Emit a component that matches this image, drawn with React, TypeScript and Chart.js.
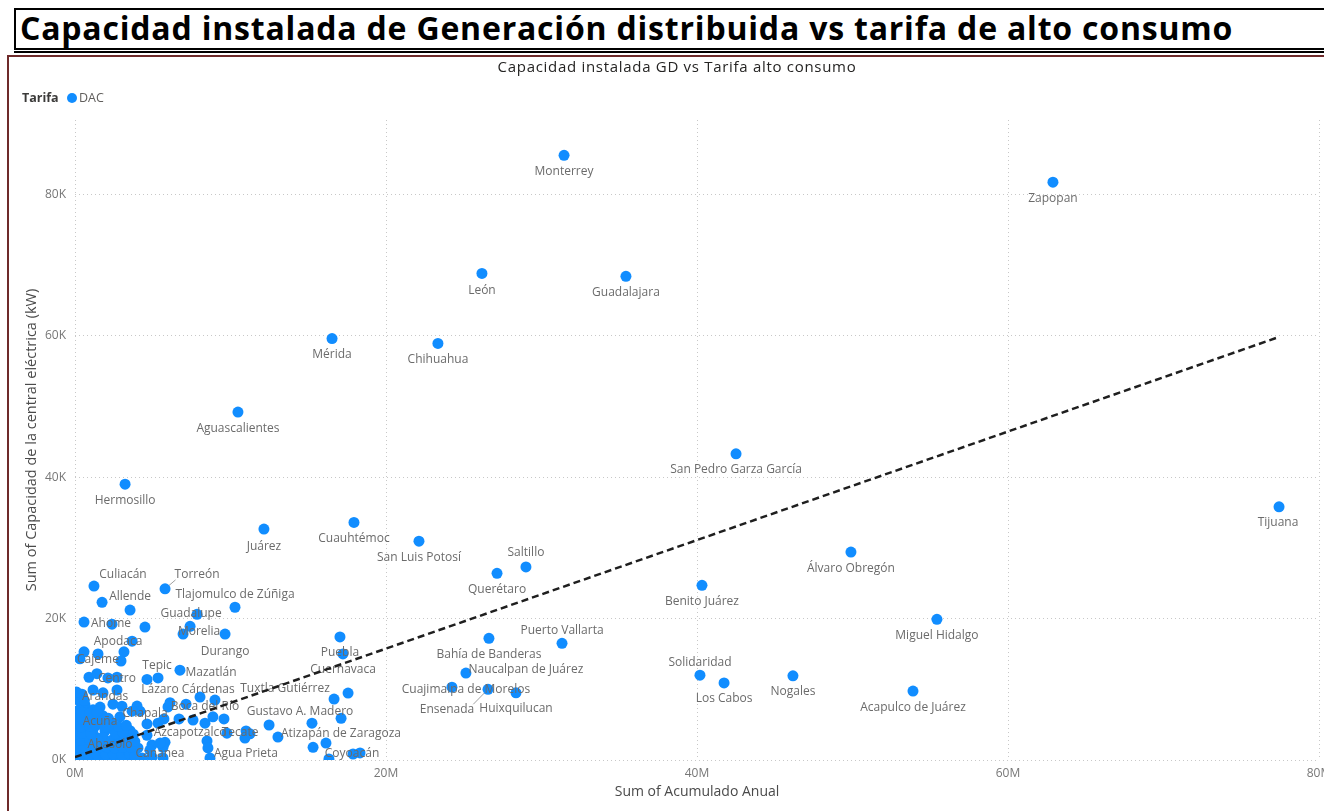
import React, { useEffect, useRef } from 'react';
import { Chart, registerables } from 'chart.js';

Chart.register(...registerables);

const FONT = '"Open Sans", "Noto Sans", sans-serif';

// ---------- DATA ----------
const cityNames: string[] = [
  'Monterrey', 'Zapopan', 'León', 'Guadalajara', 'Mérida', 'Chihuahua', 'Aguascalientes',
  'San Pedro Garza García', 'Hermosillo', 'Tijuana', 'Juárez', 'Cuauhtémoc', 'San Luis Potosí',
  'Álvaro Obregón', 'Saltillo', 'Querétaro', 'Benito Juárez', 'Culiacán', 'Torreón', 'Allende',
  'Tlajomulco de Zúñiga', 'Guadalupe', 'Ahome', 'Morelia', 'Durango', 'Apodaca', 'Puebla',
  'Cajeme', 'Tepic', 'Mazatlán', 'Cuernavaca', 'Centro', 'Lázaro Cárdenas', 'Tuxtla Gutiérrez',
  'Arandas', 'Boca del Río', 'Gustavo A. Madero', 'Chapala', 'Acuña', 'Azcapotzalco', 'Tecate',
  'Atizapán de Zaragoza', 'Abasolo', 'Agua Prieta', 'Cananea', 'Coyoacán', 'Puerto Vallarta',
  'Bahía de Banderas', 'Naucalpan de Juárez', 'Cuajimalpa de Morelos', 'Ensenada', 'Huixquilucan',
  'Solidaridad', 'Los Cabos', 'Nogales', 'Acapulco de Juárez', 'Miguel Hidalgo',
];
// Sum of Acumulado Anual (millions)
const cityAcumulado: number[] = [
  31.45, 62.89, 26.17, 35.43, 16.53, 23.34, 10.48,
  42.51, 3.22, 77.43, 12.15, 17.94, 22.12,
  49.9, 29.0, 27.14, 40.32, 1.22, 5.79, 1.74,
  10.29, 7.85, 0.58, 7.4, 9.65, 3.67, 17.23,
  0.32, 5.34, 6.75, 17.56, 2.12, 8.04, 16.66,
  1.16, 9.0, 15.24, 3.99, 1.61, 6.69, 11.0,
  16.14, 1.93, 8.68, 4.95, 17.88, 31.32,
  26.62, 25.14, 24.24, 26.56, 28.36,
  40.19, 41.74, 46.17, 53.89, 55.43,
];
// Sum of Capacidad de la central eléctrica (thousands of kW)
const cityCapacidad: number[] = [
  85.5, 81.7, 68.8, 68.4, 59.6, 58.9, 49.2,
  43.3, 39.0, 35.8, 32.65, 33.6, 30.95,
  29.4, 27.3, 26.4, 24.7, 24.6, 24.2, 22.3,
  21.6, 20.6, 19.5, 18.9, 17.8, 16.8, 15.0,
  14.3, 11.6, 12.7, 9.47, 11.6, 8.9, 8.62,
  9.9, 8.48, 5.2, 7.63, 7.49, 5.8, 4.1,
  2.4, 4.1, 0.28, 2.12, 0.85, 16.5,
  17.2, 12.3, 10.3, 10.0, 9.5,
  12.0, 10.9, 11.9, 9.75, 19.9,
];
// Other municipalities (no data label shown)
const otherAcumulado: number[] = [
  3.54, 2.38, 4.5, 6.95, 17.04, 0.58, 1.48, 3.15, 2.96, 0.9, 1.41, 2.7, 4.63, 0.45, 1.8, 2.7,
  7.14, 5.98, 6.11, 5.72, 7.59, 8.36, 8.87, 9.58, 12.48, 17.11, 9.77, 11.25, 10.93, 13.05,
  8.49, 8.55, 5.79, 5.66, 15.31, 16.33, 18.33, 5.66, 4.95, 4.63, 4.63, 5.34, 5.47, 4.05,
  4.31, 3.54, 4.18, 3.67, 3.02, 2.44, 0.64, 1.16, 2.89, 4.82,
  0.13, 0.64, 1.16, 1.67, 2.19, 2.7, 3.22,
  0.32, 0.84, 1.35, 1.86, 2.38, 2.89, 3.41,
  0.13, 0.58, 1.09, 1.61, 2.12, 2.64, 3.15, 3.6,
  0.26, 0.77, 1.29, 1.8, 2.89, 3.34,
  0.13, 0.64, 1.16, 2.51, 3.02, 3.54,
  0.32, 0.84, 1.35, 1.86, 2.38,
  0.13, 0.64, 1.22, 1.8,
  0.26, 0.19,
  0.38, 0.9, 1.42, 1.95, 2.47, 3.0, 3.5, 3.85,
  0.05, 0.55, 1.05, 1.55, 2.05, 2.55, 3.05, 3.6,
  0.4, 0.95, 1.5, 2.35, 2.85, 3.4, 3.85,
  0.05, 0.5, 1.0, 2.6, 3.1, 3.75,
  0.4, 0.95, 1.35, 1.95, 2.8, 3.3,
  0.05, 0.5, 1.05, 1.6, 2.15,
  0.45, 0.95, 1.4,
  0.6, 0.1,
];
const otherCapacidad: number[] = [
  21.2, 19.2, 18.8, 17.8, 17.4, 15.3, 15.0, 15.3, 14.0, 11.7, 12.2, 11.7, 11.4, 9.3, 9.5, 9.9,
  7.9, 7.5, 8.1, 5.8, 5.65, 5.2, 6.1, 5.8, 4.95, 5.9, 3.8, 3.7, 3.1, 3.25,
  2.7, 1.7, 2.5, 1.8, 1.8, 0.14, 1.0, 0.3, 0.4, 5.1, 3.5, 5.2, 2.4, 1.7,
  0.3, 0.4, 6.9, 6.9, 7.6, 7.9, 7.8, 7.1, 6.1, 1.4,
  0.28, 0.3, 0.25, 0.31, 0.27, 0.33, 0.26,
  1.27, 1.3, 1.22, 1.29, 1.25, 1.31, 1.2,
  2.26, 2.3, 2.2, 2.28, 2.24, 2.31, 2.22, 2.35,
  3.25, 3.2, 3.3, 3.22, 3.27, 3.18,
  4.24, 4.2, 4.3, 4.22, 4.27, 4.15,
  5.23, 5.2, 5.28, 5.19, 5.25,
  6.22, 6.3, 6.18, 6.25,
  7.1, 8.5,
  0.75, 0.8, 0.72, 0.78, 0.82, 0.7, 0.85, 0.5,
  1.75, 1.8, 1.72, 1.78, 1.83, 1.7, 1.76, 1.8,
  2.75, 2.8, 2.7, 2.78, 2.72, 2.85, 2.6,
  3.7, 3.75, 3.68, 3.72, 3.8, 3.65,
  4.7, 4.75, 4.9, 4.65, 4.72, 4.9,
  5.75, 5.7, 5.8, 5.72, 5.9,
  6.75, 6.6, 6.8,
  8.4, 9.6,
];
// Trend line end points
const trendAcumulado: number[] = [0, 77.4];
const trendCapacidad: number[] = [0.4, 59.8];

const xTickLabels: string[] = ['0M', '20M', '40M', '60M', '80M'];
const yTickLabels: string[] = ['0K', '20K', '40K', '60K', '80K'];
const legendTitle = 'Tarifa';
const legendItem = 'DAC';
const chartTitle = 'Capacidad instalada GD vs Tarifa alto consumo';
const pageTitle = 'Capacidad instalada de Generación distribuida vs tarifa de alto consumo';

// ---------- LABEL PLACEMENT (pixel nudges, styling only) ----------
const labelNudge: Record<string, [number, number, boolean?]> = {
  'Saltillo': [0, -14], 'Culiacán': [29, -11], 'Torreón': [32, -14, true], 'Allende': [28, -6],
  'Tlajomulco de Zúñiga': [0, -13], 'Guadalupe': [-6, -1], 'Ahome': [27, 1], 'Morelia': [9, 5],
  'Apodaca': [-14, 0], 'Puebla': [-3, -1], 'Cajeme': [18, 1], 'Tepic': [-1, -12], 'Mazatlán': [31, 2],
  'Cuernavaca': [-5, -23], 'Centro': [9, 1], 'Lázaro Cárdenas': [-12, -7], 'Tuxtla Gutiérrez': [-49, -10],
  'Arandas': [12, 7], 'Boca del Río': [-10, 7], 'Gustavo A. Madero': [-12, -12], 'Chapala': [8, 8],
  'Acuña': [0, 15], 'Azcapotzalco': [11, 14], 'Tecate': [-6, 2], 'Atizapán de Zaragoza': [15, -9],
  'Abasolo': [5, 14], 'Agua Prieta': [36, -4], 'Cananea': [8, 9], 'Coyoacán': [-1, 0],
  'Puerto Vallarta': [0, -13], 'Naucalpan de Juárez': [60, -3], 'Cuajimalpa de Morelos': [14, 2],
  'Ensenada': [-41, 20, true], 'Solidaridad': [0, -13], 'León': [0, 17], 'Aguascalientes': [0, 17],
  'Juárez': [0, 17], 'Durango': [0, 17], 'Acapulco de Juárez': [0, 17], 'Tijuana': [-1, 16],
};

const scatterPoints = [
  ...cityNames.map((_, i) => ({ x: cityAcumulado[i], y: cityCapacidad[i] })),
  ...otherAcumulado.map((x, i) => ({ x, y: otherCapacidad[i] })),
];
const trendPoints = trendAcumulado.map((x, i) => ({ x, y: trendCapacidad[i] }));

const labelPlugin = {
  id: 'cityLabels',
  afterDatasetDraw(chart: any, args: any) {
    if (args.index !== 1) return;
    const meta = args.meta;
    const ctx = chart.ctx as CanvasRenderingContext2D;
    ctx.save();
    ctx.font = `12px ${FONT}`;
    ctx.fillStyle = '#6b6b6b';
    ctx.textAlign = 'center';
    ctx.textBaseline = 'middle';
    cityNames.forEach((name, i) => {
      const el = meta.data[i];
      if (!el) return;
      const [dx, dy, leader] = labelNudge[name] ?? [0, 16];
      const lx = el.x + dx;
      const ly = el.y + dy;
      if (leader) {
        const w = ctx.measureText(name).width;
        const tx = dx > 0 ? lx - w / 2 + 1 : lx + w / 2 - 1;
        const ty = dy < 0 ? ly + 5 : ly - 5;
        const ang = Math.atan2(ty - el.y, tx - el.x);
        ctx.strokeStyle = '#a0a0a0';
        ctx.lineWidth = 1;
        ctx.beginPath();
        ctx.moveTo(el.x + Math.cos(ang) * 5, el.y + Math.sin(ang) * 5);
        ctx.lineTo(tx, ty);
        ctx.stroke();
      }
      ctx.fillText(name, lx, ly);
    });
    ctx.restore();
  },
};

const headerPlugin = {
  id: 'header',
  afterDraw(chart: any) {
    const ctx = chart.ctx as any;
    ctx.save();
    ctx.textBaseline = 'middle';
    ctx.textAlign = 'center';
    ctx.fillStyle = '#252423';
    ctx.font = `15px ${FONT}`;
    ctx.letterSpacing = '0.7px';
    ctx.fillText(chartTitle, 668, 11);
    ctx.letterSpacing = '0px';
    ctx.textAlign = 'left';
    ctx.font = `bold 12.5px ${FONT}`;
    ctx.fillStyle = '#3b3a39';
    ctx.fillText(legendTitle, 13, 41);
    ctx.fillStyle = '#118DFF';
    ctx.beginPath();
    ctx.arc(63, 41, 5, 0, Math.PI * 2);
    ctx.fill();
    ctx.font = `12.5px ${FONT}`;
    ctx.fillStyle = '#605e5c';
    ctx.fillText(legendItem, 70, 41);
    ctx.restore();
  },
};

export default function App() {
  const ref = useRef<HTMLCanvasElement>(null);
  useEffect(() => {
    if (!ref.current) return;
    const chart = new Chart(ref.current, {
      type: 'scatter',
      data: {
        datasets: [
          {
            type: 'line',
            label: 'Tendencia',
            data: trendPoints,
            borderColor: '#1f1f1f',
            borderWidth: 2.5,
            borderDash: [7, 4],
            pointRadius: 0,
            fill: false,
            tension: 0,
            order: 0,
          } as any,
          {
            type: 'scatter',
            label: legendItem,
            data: scatterPoints,
            backgroundColor: '#118DFF',
            borderWidth: 0,
            pointRadius: 5.5,
            pointHoverRadius: 5.5,
            order: 1,
          },
        ],
      },
      options: {
        animation: false,
        responsive: false,
        layout: { padding: { top: 63, right: 26, left: 0, bottom: 0 } },
        plugins: {
          legend: { display: false },
          title: { display: false },
          tooltip: { enabled: false },
        },
        scales: {
          x: {
            type: 'linear',
            position: 'bottom',
            min: 0,
            max: 80,
            afterFit: (s: any) => {
              s.height = 51;
              s.paddingLeft = 0;
              s.paddingRight = 0;
            },
            ticks: {
              stepSize: 20,
              includeBounds: false,
              padding: 6,
              color: '#777777',
              font: { family: FONT, size: 12 },
              callback: (v: any) => xTickLabels[Math.round(Number(v) / 20)] ?? '',
            },
            grid: { color: '#c8c8c8', lineWidth: 1, drawTicks: false },
            border: { display: false, dash: [1, 3] },
            title: {
              display: true,
              text: 'Sum of Acumulado Anual',
              color: '#4a4a4a',
              font: { family: FONT, size: 14 },
              padding: { top: 0, bottom: 11 },
            },
          },
          y: {
            type: 'linear',
            min: 0,
            max: 90.5,
            afterFit: (s: any) => {
              s.width = 66;
              s.paddingTop = 0;
              s.paddingBottom = 0;
            },
            ticks: {
              stepSize: 20,
              includeBounds: false,
              padding: 9,
              color: '#777777',
              font: { family: FONT, size: 12 },
              callback: (v: any) => yTickLabels[Math.round(Number(v) / 20)] ?? '',
            },
            grid: { color: '#c8c8c8', lineWidth: 1, drawTicks: false },
            border: { display: false, dash: [1, 3] },
            title: {
              display: true,
              text: 'Sum of Capacidad de la central eléctrica (kW)',
              color: '#4a4a4a',
              font: { family: FONT, size: 14.5 },
              padding: { top: 14, bottom: 0 },
            },
          },
        },
      },
      plugins: [labelPlugin, headerPlugin],
    });
    return () => chart.destroy();
  }, []);

  return (
    <div
      style={{
        position: 'fixed',
        left: 0,
        top: 0,
        width: 1324,
        height: 811,
        overflow: 'hidden',
        background: '#ffffff',
      }}
    >
      <div
        style={{
          position: 'absolute',
          left: 14,
          top: 8,
          width: 1340,
          height: 42,
          boxSizing: 'border-box',
          border: '2px solid #000',
          fontFamily: FONT,
          fontWeight: 700,
          fontSize: 32,
          letterSpacing: '0.8px',
          lineHeight: '36px',
          paddingLeft: 4,
          color: '#000',
          whiteSpace: 'nowrap',
        }}
      >
        {pageTitle}
      </div>
      <div style={{ position: 'absolute', left: 14, top: 51, width: 1340, height: 2, background: '#000' }} />
      <div
        style={{
          position: 'absolute',
          left: 7,
          top: 55,
          width: 1360,
          height: 800,
          boxSizing: 'border-box',
          border: '2px solid #6e2a2a',
        }}
      />
      <canvas
        ref={ref}
        width={1336}
        height={754}
        style={{ position: 'absolute', left: 9, top: 57, width: 1336, height: 754 }}
      />
    </div>
  );
}
